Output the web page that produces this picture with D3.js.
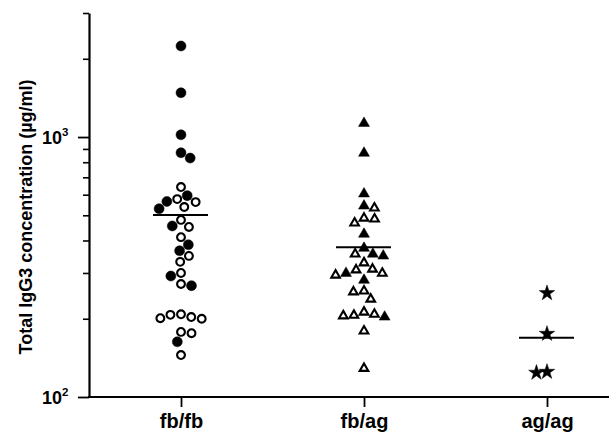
<!DOCTYPE html>
<html>
<head>
<meta charset="utf-8">
<script src="https://cdn.jsdelivr.net/npm/d3@7"></script>
<style>
  body { margin: 0; background: #fff; }
  svg { display: block; }
  text { font-family: "Liberation Sans", Arial, sans-serif; font-weight: bold; fill: #000; }
</style>
</head>
<body>
<svg id="chart" width="609" height="434"></svg>
<script>
// genotype groups along the x axis
const groups = ["fb/fb", "fb/ag", "ag/ag"];

// IgG3 values (ug/ml)
const fbfbFilled = [2240, 1480, 1020, 870, 830, 595, 565, 530, 455, 385, 365, 292, 268, 163];
const fbfbOpen = [642, 577, 562, 538, 480, 451, 412, 349, 331, 300, 272, 208, 207, 203, 201, 200, 178, 176, 145];
const fbagFilled = [1140, 875, 610, 548, 427, 377, 358, 352, 302, 284, 205];
const fbagOpen = [538, 492, 488, 471, 358, 331, 313, 311, 302, 297, 258, 256, 240, 214, 210, 208, 207, 181, 130];
const agagStars = [251, 175, 125, 124];
const groupMeans = [501, 377, 169];

// y axis ticks
const majorTicks = [100, 1000];
const minorTicks = [200, 300, 400, 500, 600, 700, 800, 900, 2000, 3000];

const svg = d3.select("#chart");

const y = d3.scaleLog().domain([100, 3000]).range([397, 13]);
const x = d3.scalePoint().domain(groups).range([181, 547]);

// build point list: group, value, marker type
const points = [];
fbfbFilled.forEach(v => points.push({ g: "fb/fb", v: v, shape: "circle", filled: true }));
fbfbOpen.forEach(v => points.push({ g: "fb/fb", v: v, shape: "circle", filled: false }));
fbagFilled.forEach(v => points.push({ g: "fb/ag", v: v, shape: "triangle", filled: true }));
fbagOpen.forEach(v => points.push({ g: "fb/ag", v: v, shape: "triangle", filled: false }));
agagStars.forEach(v => points.push({ g: "ag/ag", v: v, shape: "star", filled: true }));

// simple beeswarm so symbols don't overlap
const r = 5.3;
groups.forEach(g => {
  const pts = points.filter(p => p.g === g).sort((a, b) => b.v - a.v);
  const placed = [];
  pts.forEach((p, i) => {
    const py = y(p.v);
    const cands = [0];
    placed.forEach(q => {
      const dy = Math.abs(q.y - py);
      if (dy < 2 * r) {
        const dx = Math.sqrt(4 * r * r - dy * dy);
        cands.push(q.dx + dx, q.dx - dx);
      }
    });
    cands.sort((a, b) => Math.abs(a) - Math.abs(b) || (i % 2 ? a - b : b - a));
    const ok = cands.find(c => placed.every(q => {
      const ddx = q.dx - c, ddy = q.y - py;
      return ddx * ddx + ddy * ddy >= 4 * r * r - 0.01;
    }));
    p.dx = ok;
    p.y = py;
    placed.push(p);
  });
});

// y axis: minor ticks then major ticks
svg.append("g")
  .attr("transform", "translate(89,0)")
  .call(d3.axisLeft(y).tickValues(minorTicks).tickSize(6).tickSizeOuter(0).tickFormat(""))
  .call(g => g.selectAll("line").attr("stroke-width", 1.6))
  .call(g => g.select(".domain").attr("stroke-width", 2.2));

const yMajor = svg.append("g")
  .attr("transform", "translate(89,0)")
  .call(d3.axisLeft(y).tickValues(majorTicks).tickSize(11).tickSizeOuter(0).tickFormat(""))
  .call(g => g.select(".domain").remove())
  .call(g => g.selectAll("line").attr("stroke-width", 1.8));

yMajor.selectAll(".tick").append("text")
  .attr("x", -47)
  .attr("y", 6.5)
  .attr("text-anchor", "start")
  .attr("font-size", 18)
  .each(function (d) {
    const t = d3.select(this);
    t.append("tspan").text("10");
    t.append("tspan").attr("font-size", 11.5).attr("dy", -8).text(Math.round(Math.log10(d)));
  });

// x axis baseline across the full width
svg.append("line")
  .attr("x1", 88).attr("x2", 609)
  .attr("y1", 397).attr("y2", 397)
  .attr("stroke", "#000").attr("stroke-width", 2.2);

svg.append("g")
  .attr("transform", "translate(0,397)")
  .call(d3.axisBottom(x).tickSize(10).tickSizeOuter(0))
  .call(g => g.select(".domain").remove())
  .call(g => g.selectAll("line").attr("stroke-width", 1.8))
  .call(g => g.selectAll("text").attr("font-size", 20).attr("dy", 0).attr("y", 31).attr("fill", "#000"));

// y axis title
svg.append("text")
  .attr("transform", "translate(32,217) rotate(-90)")
  .attr("text-anchor", "middle")
  .attr("font-size", 18)
  .text("Total IgG3 concentration (\u00b5g/ml)");

// symbols
const symbolFor = {
  circle: d3.symbol().type(d3.symbolCircle).size(Math.PI * 5 * 5),
  triangle: d3.symbol().type(d3.symbolTriangle).size(52),
  star: d3.symbol().type(d3.symbolStar).size(75)
};

svg.append("g").selectAll("path")
  .data(points)
  .join("path")
  .attr("transform", d => `translate(${x(d.g) + d.dx},${d.y + (d.shape === "triangle" ? 1 : 0)})`)
  .attr("d", d => d.filled ? symbolFor[d.shape]() :
    d3.symbol().type(d.shape === "circle" ? d3.symbolCircle : d3.symbolTriangle)
      .size(d.shape === "circle" ? Math.PI * 3.9 * 3.9 : 32)())
  .attr("fill", d => d.filled ? "#000" : "#fff")
  .attr("stroke", "#000")
  .attr("stroke-width", d => d.filled ? 0.5 : 2.1);

// group means
svg.append("g").selectAll("line")
  .data(groups)
  .join("line")
  .attr("x1", d => x(d) - 28)
  .attr("x2", d => x(d) + 27)
  .attr("y1", (d, i) => y(groupMeans[i]))
  .attr("y2", (d, i) => y(groupMeans[i]))
  .attr("stroke", "#000")
  .attr("stroke-width", 2);
</script>
</body>
</html>
